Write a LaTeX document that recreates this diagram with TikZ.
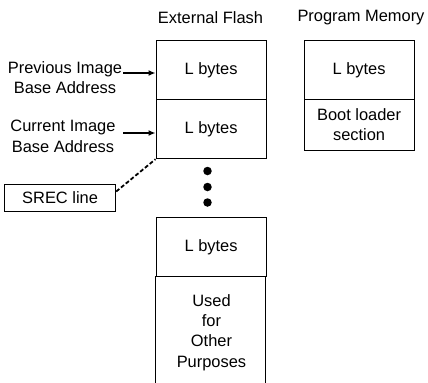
\documentclass[tikz,border=0pt]{standalone}
\usepackage{fontspec}
\setmainfont{Liberation Sans}
\usetikzlibrary{arrows.meta}
\begin{document}
\begin{tikzpicture}[x=1bp,y=-1bp,
  txt/.style={font=\fontsize{16.5}{20.5}\selectfont, align=center, inner sep=0pt},
  mem/.style={draw, line width=1.2bp, minimum width=110bp, inner sep=0pt, font=\fontsize{16.5}{20.5}\selectfont, align=center},
  ptr/.style={line width=1.8bp, -{Latex[length=7bp,width=6bp]}},
  dot/.style={circle, fill, inner sep=0pt, minimum size=8.5bp}]
\useasboundingbox (0,0) rectangle (428,383);
% titles
\node[txt] (tflash) at (210.5,18) {External Flash};
\node[txt] (tprog) at (361,18) {Program Memory};
% flash boxes
\node[mem, minimum height=59bp, anchor=north west] (f1) at (155.5,40) {L bytes};
\node[mem, minimum height=59bp, anchor=north west] (f2) at (155.5,99) {L bytes};
\node[dot] (d1) at (207.5,171) {};
\node[dot] (d2) at (207.5,187) {};
\node[dot] (d3) at (207.5,202.5) {};
\node[mem, minimum height=59bp, anchor=north west] (f3) at (155.5,217) {L bytes};
\draw[line width=1.2bp] (155.5,276) -- (155.5,384) (265.5,276) -- (265.5,384);
\node[txt, anchor=north] (other) at (211.5,294) {Used\\for\\Other\\Purposes};
% program memory
\node[mem, minimum height=59bp, anchor=north west] (p1) at (303.5,40) {L bytes};
\node[mem, minimum height=50.5bp, anchor=north west] (p2) at (303.5,99) {Boot loader\\section};
% labels
\node[txt] (prev) at (65,77.5) {Previous Image\\Base Address};
\node[txt] (curr) at (63,136.5) {Current Image\\Base Address};
\coordinate (pa) at (123,73);
\coordinate (ca) at (123,133);
\draw[ptr] (pa) -- (f1.west |- pa);
\draw[ptr] (ca) -- (f2.west |- ca);
\node[draw, line width=1.2bp, minimum width=111bp, minimum height=27.5bp, inner sep=0pt, font=\fontsize{16.5}{20}\selectfont, anchor=north west] (srec) at (4,183.5) {SREC line};
\draw[line width=1.8bp, dash pattern=on 4bp off 2.2bp] ([yshift=-8bp]srec.north east) -- (f2.south west);
\end{tikzpicture}
\end{document}
